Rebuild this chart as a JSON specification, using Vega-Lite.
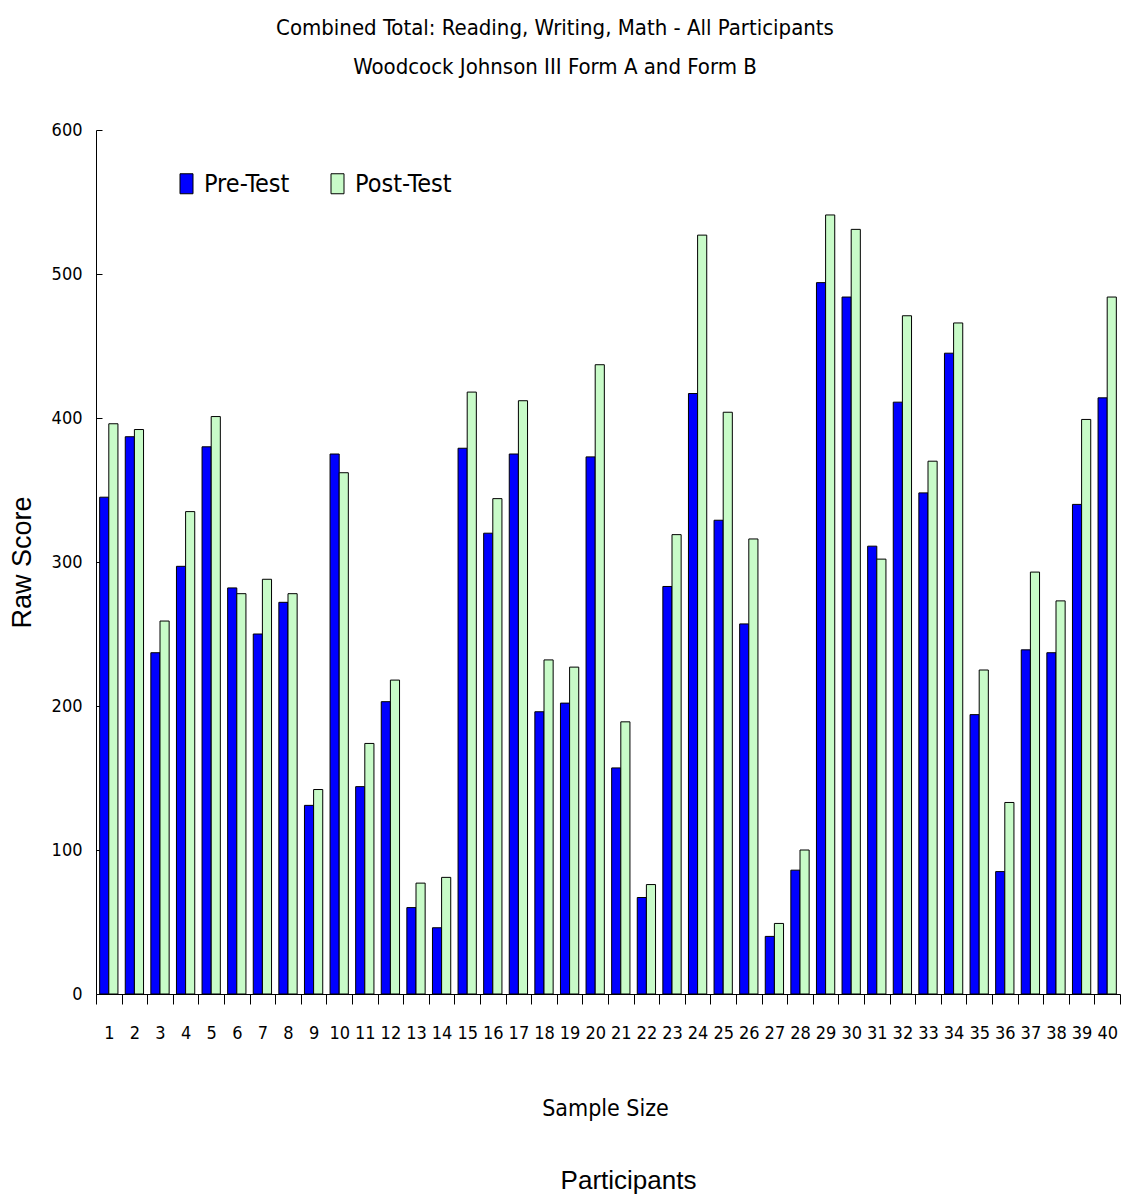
{
  "$schema": "https://vega.github.io/schema/vega-lite/v6.json",
  "autosize": "none",
  "width": 1024,
  "height": 864,
  "padding": {"left": 96, "top": 130, "right": 4, "bottom": 203},
  "background": "white",
  "config": {"view": {"stroke": null}, "font": "DejaVu Sans Condensed"},
  "title": {
    "text": ["Combined Total: Reading, Writing, Math - All Participants", "Woodcock Johnson III Form A and Form B"],
    "font": "DejaVu Sans Condensed",
    "fontSize": 22,
    "fontWeight": "normal",
    "lineHeight": 39,
    "anchor": "middle",
    "dx": -53,
    "offset": 42,
    "color": "black"
  },
  "data": {
    "values": [
      {"participant": 1, "test": "Pre-Test", "score": 345}, {"participant": 1, "test": "Post-Test", "score": 396},
      {"participant": 2, "test": "Pre-Test", "score": 387}, {"participant": 2, "test": "Post-Test", "score": 392},
      {"participant": 3, "test": "Pre-Test", "score": 237}, {"participant": 3, "test": "Post-Test", "score": 259},
      {"participant": 4, "test": "Pre-Test", "score": 297}, {"participant": 4, "test": "Post-Test", "score": 335},
      {"participant": 5, "test": "Pre-Test", "score": 380}, {"participant": 5, "test": "Post-Test", "score": 401},
      {"participant": 6, "test": "Pre-Test", "score": 282}, {"participant": 6, "test": "Post-Test", "score": 278},
      {"participant": 7, "test": "Pre-Test", "score": 250}, {"participant": 7, "test": "Post-Test", "score": 288},
      {"participant": 8, "test": "Pre-Test", "score": 272}, {"participant": 8, "test": "Post-Test", "score": 278},
      {"participant": 9, "test": "Pre-Test", "score": 131}, {"participant": 9, "test": "Post-Test", "score": 142},
      {"participant": 10, "test": "Pre-Test", "score": 375}, {"participant": 10, "test": "Post-Test", "score": 362},
      {"participant": 11, "test": "Pre-Test", "score": 144}, {"participant": 11, "test": "Post-Test", "score": 174},
      {"participant": 12, "test": "Pre-Test", "score": 203}, {"participant": 12, "test": "Post-Test", "score": 218},
      {"participant": 13, "test": "Pre-Test", "score": 60}, {"participant": 13, "test": "Post-Test", "score": 77},
      {"participant": 14, "test": "Pre-Test", "score": 46}, {"participant": 14, "test": "Post-Test", "score": 81},
      {"participant": 15, "test": "Pre-Test", "score": 379}, {"participant": 15, "test": "Post-Test", "score": 418},
      {"participant": 16, "test": "Pre-Test", "score": 320}, {"participant": 16, "test": "Post-Test", "score": 344},
      {"participant": 17, "test": "Pre-Test", "score": 375}, {"participant": 17, "test": "Post-Test", "score": 412},
      {"participant": 18, "test": "Pre-Test", "score": 196}, {"participant": 18, "test": "Post-Test", "score": 232},
      {"participant": 19, "test": "Pre-Test", "score": 202}, {"participant": 19, "test": "Post-Test", "score": 227},
      {"participant": 20, "test": "Pre-Test", "score": 373}, {"participant": 20, "test": "Post-Test", "score": 437},
      {"participant": 21, "test": "Pre-Test", "score": 157}, {"participant": 21, "test": "Post-Test", "score": 189},
      {"participant": 22, "test": "Pre-Test", "score": 67}, {"participant": 22, "test": "Post-Test", "score": 76},
      {"participant": 23, "test": "Pre-Test", "score": 283}, {"participant": 23, "test": "Post-Test", "score": 319},
      {"participant": 24, "test": "Pre-Test", "score": 417}, {"participant": 24, "test": "Post-Test", "score": 527},
      {"participant": 25, "test": "Pre-Test", "score": 329}, {"participant": 25, "test": "Post-Test", "score": 404},
      {"participant": 26, "test": "Pre-Test", "score": 257}, {"participant": 26, "test": "Post-Test", "score": 316},
      {"participant": 27, "test": "Pre-Test", "score": 40}, {"participant": 27, "test": "Post-Test", "score": 49},
      {"participant": 28, "test": "Pre-Test", "score": 86}, {"participant": 28, "test": "Post-Test", "score": 100},
      {"participant": 29, "test": "Pre-Test", "score": 494}, {"participant": 29, "test": "Post-Test", "score": 541},
      {"participant": 30, "test": "Pre-Test", "score": 484}, {"participant": 30, "test": "Post-Test", "score": 531},
      {"participant": 31, "test": "Pre-Test", "score": 311}, {"participant": 31, "test": "Post-Test", "score": 302},
      {"participant": 32, "test": "Pre-Test", "score": 411}, {"participant": 32, "test": "Post-Test", "score": 471},
      {"participant": 33, "test": "Pre-Test", "score": 348}, {"participant": 33, "test": "Post-Test", "score": 370},
      {"participant": 34, "test": "Pre-Test", "score": 445}, {"participant": 34, "test": "Post-Test", "score": 466},
      {"participant": 35, "test": "Pre-Test", "score": 194}, {"participant": 35, "test": "Post-Test", "score": 225},
      {"participant": 36, "test": "Pre-Test", "score": 85}, {"participant": 36, "test": "Post-Test", "score": 133},
      {"participant": 37, "test": "Pre-Test", "score": 239}, {"participant": 37, "test": "Post-Test", "score": 293},
      {"participant": 38, "test": "Pre-Test", "score": 237}, {"participant": 38, "test": "Post-Test", "score": 273},
      {"participant": 39, "test": "Pre-Test", "score": 340}, {"participant": 39, "test": "Post-Test", "score": 399},
      {"participant": 40, "test": "Pre-Test", "score": 414}, {"participant": 40, "test": "Post-Test", "score": 484}
    ]
  },
  "layer": [
    {
      "transform": [{"filter": "datum.test === 'Pre-Test'"}],
      "mark": {"type": "bar", "stroke": "black", "strokeWidth": 1},
      "encoding": {
        "x": {
          "field": "participant", "type": "ordinal",
          "scale": {"paddingInner": 0, "paddingOuter": 0},
          "axis": {
            "orient": "bottom", "labelAngle": 0, "tickBand": "extent", "tickSize": 10,
            "labelFont": "DejaVu Sans Condensed", "labelFontSize": 18, "labelPadding": 20, "labelColor": "black",
            "domainColor": "black", "tickColor": "black", "grid": false,
            "title": "Sample Size", "titleFont": "DejaVu Sans Condensed", "titleFontSize": 23, "titleFontWeight": "normal",
            "titleColor": "black", "titleX": 509, "titleY": 114, "titleBaseline": "middle"
          }
        },
        "xOffset": {"field": "test", "scale": {"domain": ["Pre-Test", "Post-Test"], "paddingInner": 0, "paddingOuter": 0.4}},
        "y": {
          "field": "score", "type": "quantitative",
          "scale": {"domain": [0, 600], "nice": false},
          "axis": {
            "values": [0, 100, 200, 300, 400, 500, 600], "tickSize": -6, "grid": false,
            "labelFont": "DejaVu Sans Condensed", "labelFontSize": 18, "labelColor": "black", "labelPadding": 20,
            "domainColor": "black", "tickColor": "black",
            "title": "Raw Score", "titleFont": "Liberation Sans", "titleFontSize": 27, "titleFontWeight": "normal",
            "titleColor": "black", "titleX": -74, "titleY": 432, "titleAngle": -90, "titleBaseline": "middle"
          }
        },
        "color": {
          "field": "test", "type": "nominal",
          "scale": {"domain": ["Pre-Test", "Post-Test"], "range": ["#0000ff", "#c8fbc8"]},
          "legend": {
            "orient": "none", "legendX": 78, "legendY": 41, "direction": "horizontal", "title": null,
            "symbolType": "M-0.65,-1H0.65V1H-0.65Z", "symbolSize": 400, "symbolStrokeColor": "black", "symbolStrokeWidth": 1,
            "labelFont": "DejaVu Sans Condensed", "labelFontSize": 25, "labelOffset": 5, "labelColor": "black",
            "columnPadding": 35, "padding": 0
          }
        }
      }
    },
    {
      "transform": [{"filter": "datum.test === 'Post-Test'"}],
      "mark": {"type": "bar", "fill": "#c8fbc8", "stroke": "black", "strokeWidth": 1},
      "encoding": {
        "x": {
          "field": "participant", "type": "ordinal",
          "axis": {
            "orient": "bottom", "labels": false, "ticks": false, "domain": false, "grid": false,
            "title": "Participants", "titleFont": "Liberation Sans", "titleFontSize": 26, "titleFontWeight": "normal",
            "titleColor": "black", "titleX": 532, "titleY": 186, "titleBaseline": "middle"
          }
        },
        "xOffset": {"field": "test"},
        "y": {"field": "score", "type": "quantitative"}
      }
    }
  ],
  "resolve": {"axis": {"x": "independent"}}
}
